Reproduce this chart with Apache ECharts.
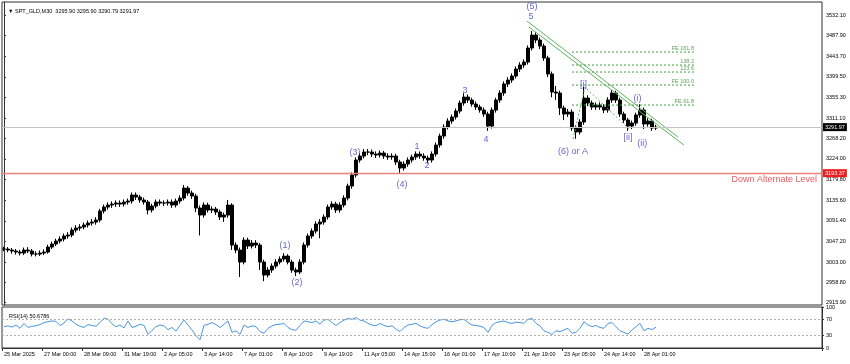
<!DOCTYPE html>
<html><head><meta charset="utf-8">
<script src="https://cdn.jsdelivr.net/npm/echarts@6/dist/echarts.min.js"></script>
<style>html,body{margin:0;padding:0;background:#fff}#c{width:850px;height:364px}</style>
</head><body><div id="c"></div>
<script>
// ---------- data ----------
const tickLabels = ["25 Mar 2025","27 Mar 00:00","28 Mar 09:00","31 Mar 19:00","2 Apr 05:00","3 Apr 14:00","7 Apr 01:00","8 Apr 10:00","9 Apr 19:00","11 Apr 05:00","14 Apr 15:00","16 Apr 01:00","17 Apr 10:00","21 Apr 19:00","23 Apr 05:00","24 Apr 14:00","28 Apr 01:00"];
const priceTicks = [3532.10,3487.90,3443.70,3399.50,3355.30,3311.10,3268.20,3224.00,3179.80,3135.60,3091.40,3047.20,3003.00,2958.80,2915.90];
const rsiTicks = [100,70,30,0];

const closes = [3030.8,3028.7,3026.6,3024.4,3022.3,3028.7,3026.6,3020.1,3020.1,3022.3,
3024.4,3035.1,3041.6,3048.0,3052.3,3058.7,3060.8,3071.5,3075.8,3078.0,
3082.3,3086.5,3088.7,3093.0,3112.3,3120.8,3125.1,3127.2,3129.4,3127.2,
3131.5,3133.7,3146.5,3142.2,3135.8,3131.5,3114.4,3123.0,3131.5,3129.4,
3129.4,3131.5,3125.1,3133.7,3140.1,3161.5,3150.8,3144.4,3118.7,3103.7,
3125.1,3114.4,3116.5,3110.1,3099.4,3103.7,3125.1,3039.4,3028.7,3003.0,
3050.1,3037.3,3043.7,3039.4,3003.0,2975.1,2985.9,2994.4,3003.0,3009.4,
3015.8,3003.0,2985.9,2981.6,3003.0,3039.4,3058.7,3069.4,3084.4,3088.7,
3099.4,3120.8,3127.2,3114.4,3125.1,3140.1,3165.8,3189.4,3221.5,3230.0,
3238.6,3238.6,3234.3,3232.2,3236.5,3230.0,3227.9,3230.0,3217.2,3204.3,
3212.9,3221.5,3227.9,3234.3,3230.0,3225.8,3221.5,3234.3,3253.6,3272.9,
3292.2,3305.0,3313.6,3326.4,3343.6,3356.4,3350.0,3341.4,3335.0,3328.6,
3320.0,3294.3,3328.6,3350.0,3365.0,3384.3,3392.8,3401.4,3416.4,3425.0,
3431.4,3461.4,3489.2,3478.5,3465.7,3440.0,3405.7,3367.1,3365.0,3332.9,
3320.0,3324.3,3290.0,3281.5,3302.9,3354.3,3343.6,3335.0,3339.3,3335.0,
3328.6,3350.0,3365.0,3350.0,3320.0,3307.2,3294.3,3300.7,3317.9,3328.6,
3298.6,3305.0,3290.0,3291.97];
const highs = [3036,3035,3033,3031,3029,3034,3035,3031,3026,3028,
3030,3040,3047,3053,3058,3064,3067,3077,3082,3084,
3088,3092,3095,3099,3117,3126,3131,3133,3135,3135,
3137,3139,3152,3152,3147,3141,3136,3128,3137,3137,
3135,3137,3137,3139,3146,3168,3166,3156,3149,3124,
3131,3130,3122,3121,3115,3109,3136,3129,3045,3034,
3056,3055,3050,3050,3044,3008,2992,3000,3009,3015,
3022,3020,3008,2991,3009,3045,3064,3075,3090,3095,
3105,3126,3133,3132,3131,3146,3171,3195,3227,3236,
3245,3245,3244,3240,3242,3241,3236,3236,3235,3222,
3219,3227,3233,3240,3240,3236,3231,3240,3259,3278,
3298,3311,3319,3332,3349,3365,3362,3355,3347,3340,
3334,3325,3334,3355,3371,3390,3399,3407,3422,3431,
3437,3467,3498,3495,3484,3471,3445,3411,3380,3370,
3338,3331,3330,3296,3309,3378,3360,3349,3345,3345,
3341,3356,3371,3370,3355,3325,3312,3306,3323,3341,
3334,3311,3310,3297];
const lows = [3026,3024,3021,3019,3017,3018,3022,3015,3015,3016,
3018,3021,3031,3037,3043,3047,3053,3056,3066,3070,
3073,3077,3081,3083,3088,3107,3115,3119,3121,3121,
3122,3126,3128,3136,3130,3126,3105,3109,3118,3124,
3123,3124,3119,3120,3128,3135,3145,3138,3110,3060,
3098,3109,3108,3104,3093,3089,3098,3029,3022,2971,
2998,3031,3032,3033,2986,2962,2970,2980,2989,2998,
3004,2998,2980,2973,2977,2998,3034,3053,3064,3054,
3083,3094,3115,3108,3109,3120,3135,3160,3184,3216,
3225,3232,3228,3226,3227,3224,3222,3222,3211,3194,
3199,3207,3216,3222,3224,3220,3214,3216,3229,3248,
3267,3287,3299,3308,3321,3338,3344,3336,3329,3323,
3314,3284,3289,3323,3344,3359,3378,3387,3396,3410,
3419,3426,3456,3472,3459,3434,3399,3356,3350,3318,
3307,3314,3284,3267,3276,3297,3337,3329,3329,3329,
3322,3323,3344,3344,3314,3301,3284,3288,3295,3312,
3288,3293,3284,3286];
const rsi = [52,54,51,56,48,60,50,53,54,57,
62,64,66,65,55,61,71,66,58,53,
50,57,55,53,62,73,70,59,52,56,
49,66,50,53,58,55,33,43,52,56,
54,45,50,41,55,68,56,44,30,20,
55,58,62,57,50,58,66,38,42,33,
56,50,54,52,40,36,48,54,57,58,
60,50,45,43,55,66,64,62,66,58,
68,70,62,55,62,68,72,70,74,68,
66,60,56,54,60,55,52,54,46,40,
50,56,58,60,54,50,48,57,64,68,
70,66,64,66,69,70,62,56,55,53,
50,38,55,62,64,66,62,60,63,62,
60,70,72,60,54,42,38,33,42,40,
44,48,36,38,48,64,56,52,55,50,
48,60,62,52,42,38,34,44,52,60,
42,48,45,50.68];

const currentPrice = 3291.97;
const alternateLevel = 3193.37;
const alternateText = "Down Alternate Level";
const feLevels = [3452.8,3425.0,3410.0,3382.1,3339.3];
const feNames = ["FE 161.8","138.2","123.6","FE 100.0","FE 61.8"];
const feStartSlot = 142, feEndSlot = 172.75;
const fePoints = [[142.25,3266.5],[145.25,3377.8],[156.25,3287.9]];
const trendA = [[130.75,3519.2],[168.5,3270.7]];
const trendB = [[131.25,3506.3],[170,3253.6]];
const waveNames  = ["(1)","(2)","(3)","(4)","1","2","3","4","5","(5)","(6) or A","[i]","[ii]","(i)","(ii)"];
const waveSlots  = [70.25,73.25,87.75,99.5,103.25,105.75,115.25,120.5,131.75,132,142.25,144.9,156,158.4,159.6];
const wavePrices = [3037.3,2958.0,3236.5,3167.9,3249.3,3208.6,3369.3,3264.3,3528.9,3549.2,3239.3,3382.1,3268.6,3352.1,3255.8];
const altTextAnchor = [203.25,3178.6];
const SLOTS = 205;

// ---------- chart ----------
const FONT = "'Liberation Sans', Arial, sans-serif";
const cats = Array.from({length:SLOTS},(_,i)=>String(i));
const showTick = (idx)=> idx%10===0 && idx/10 < tickLabels.length;
const candles = closes.map((c,i)=>[i===0?c:closes[i-1], c, lows[i], highs[i]]);

const chart = echarts.init(document.getElementById('c'), null, {renderer:'canvas'});
const series = [];
series.push({
  type:'candlestick', xAxisIndex:0, yAxisIndex:0, data:candles, barWidth:3,
  itemStyle:{color:'#000',color0:'#000',borderColor:'#000',borderColor0:'#000',borderWidth:1},
  markLine:{silent:true, symbol:['none','none'], animation:false,
    data:[
      {yAxis:currentPrice, lineStyle:{color:'#c4c4c4',width:1,type:'solid'},
        label:{show:true,position:'end',formatter:currentPrice.toFixed(2),color:'#fff',backgroundColor:'#000',
          fontSize:5.5,fontFamily:FONT,padding:[1,2,1,2],distance:1}},
      {yAxis:alternateLevel, lineStyle:{color:'#f08080',width:1.3,type:'solid'},
        label:{show:true,position:'end',formatter:alternateLevel.toFixed(2),color:'#fff',backgroundColor:'#ee1c1c',
          fontSize:5.5,fontFamily:FONT,padding:[1,2,1,2],distance:1}}
    ]}
});
[trendA,trendB].forEach(t=>series.push({type:'line',xAxisIndex:1,yAxisIndex:0,data:t,symbol:'none',
  lineStyle:{color:'#5db35d',width:1},silent:true,z:3}));
feLevels.forEach((lv,k)=>series.push({type:'line',xAxisIndex:1,yAxisIndex:0,
  data:[[feStartSlot,lv],[feEndSlot,lv]],symbol:'none',lineStyle:{color:'#3f9f3f',width:1,type:[2,2]},silent:true,z:3}));
series.push({type:'line',xAxisIndex:1,yAxisIndex:0,data:fePoints,symbol:'none',
  lineStyle:{color:'#5db35d',width:1,type:[2,2]},silent:true,z:3});
series.push({type:'scatter',xAxisIndex:1,yAxisIndex:0,symbolSize:0.1,itemStyle:{color:'transparent'},silent:true,z:5,
  data:feLevels.map((lv,k)=>({value:[feEndSlot,lv],name:feNames[k]})),
  label:{show:true,position:[0,0],align:'right',verticalAlign:'bottom',offset:[-1,-0.5],
    formatter:p=>p.name,color:'#2e8b2e',fontSize:5.5,fontFamily:FONT}});
series.push({type:'scatter',xAxisIndex:1,yAxisIndex:0,symbolSize:0.1,itemStyle:{color:'transparent'},silent:true,z:6,
  data:waveNames.map((n,k)=>({value:[waveSlots[k],wavePrices[k]],name:n})),
  label:{show:true,position:[0,0],align:'center',verticalAlign:'middle',
    formatter:p=>p.name,color:'#4040c8',fontSize:9,fontFamily:FONT}});
series.push({type:'scatter',xAxisIndex:1,yAxisIndex:0,symbolSize:0.1,itemStyle:{color:'transparent'},silent:true,z:6,
  data:[{value:altTextAnchor,name:alternateText}],
  label:{show:true,position:[0,0],align:'right',verticalAlign:'middle',
    formatter:p=>p.name,color:'#e8303a',fontSize:9,fontFamily:FONT}});
series.push({type:'line',xAxisIndex:2,yAxisIndex:1,data:rsi,symbol:'none',
  lineStyle:{color:'#4a96e0',width:1},silent:true,
  markLine:{silent:true,symbol:['none','none'],label:{show:false},
    lineStyle:{color:'#b0b0b0',width:1,type:[2,2]},data:[{yAxis:70},{yAxis:30}]}});

chart.setOption({
  animation:false,
  backgroundColor:'#fff',
  title:[
    {text:'\u25BC SPT_GLD,M30  3295.90 3295.90 3290.79 3291.97',left:3,top:3,
      textStyle:{fontSize:5.5,fontWeight:'normal',color:'#000',fontFamily:FONT}},
    {text:'RSI(14) 50.6786',left:4,top:308,textStyle:{fontSize:5.5,fontWeight:'normal',color:'#000',fontFamily:FONT}}
  ],
  grid:[
    {left:2,top:2,width:820,height:303,show:true,borderColor:'#333',borderWidth:1,backgroundColor:'transparent'},
    {left:2,top:307,width:820,height:41,show:true,borderColor:'#333',borderWidth:1,backgroundColor:'transparent'}
  ],
  xAxis:[
    {type:'category',gridIndex:0,data:cats,boundaryGap:true,axisLine:{show:false},axisTick:{show:false},axisLabel:{show:false},splitLine:{show:false}},
    {type:'value',gridIndex:0,min:-0.5,max:SLOTS-0.5,show:false},
    {type:'category',gridIndex:1,data:cats,boundaryGap:true,
      axisLine:{show:true,lineStyle:{color:'#333'}},
      axisTick:{show:true,interval:(i)=>showTick(i),length:3,lineStyle:{color:'#333'}},
      axisLabel:{show:true,interval:(i)=>showTick(i),formatter:(v)=>{const n=+v;return (n%10===0&&tickLabels[n/10])?tickLabels[n/10]:'';},
        align:'left',margin:3,fontSize:5.5,color:'#000',fontFamily:FONT,hideOverlap:false},
      splitLine:{show:false}}
  ],
  yAxis:[
    {type:'value',gridIndex:0,position:'right',min:2911,max:3560,scale:true,
      axisLine:{show:true,lineStyle:{color:'#333'}},
      axisTick:{show:true,length:2,customValues:priceTicks,lineStyle:{color:'#333'}},
      axisLabel:{show:true,customValues:priceTicks,formatter:v=>v.toFixed(2),margin:4,fontSize:5.5,color:'#000',fontFamily:FONT},
      splitLine:{show:false}},
    {type:'value',gridIndex:1,position:'right',min:0,max:100,
      axisLine:{show:true,lineStyle:{color:'#333'}},
      axisTick:{show:true,length:2,customValues:rsiTicks,lineStyle:{color:'#333'}},
      axisLabel:{show:true,customValues:rsiTicks,margin:4,fontSize:5.5,color:'#000',fontFamily:FONT},
      splitLine:{show:false}},
  ],
  series:series
});
</script></body></html>
